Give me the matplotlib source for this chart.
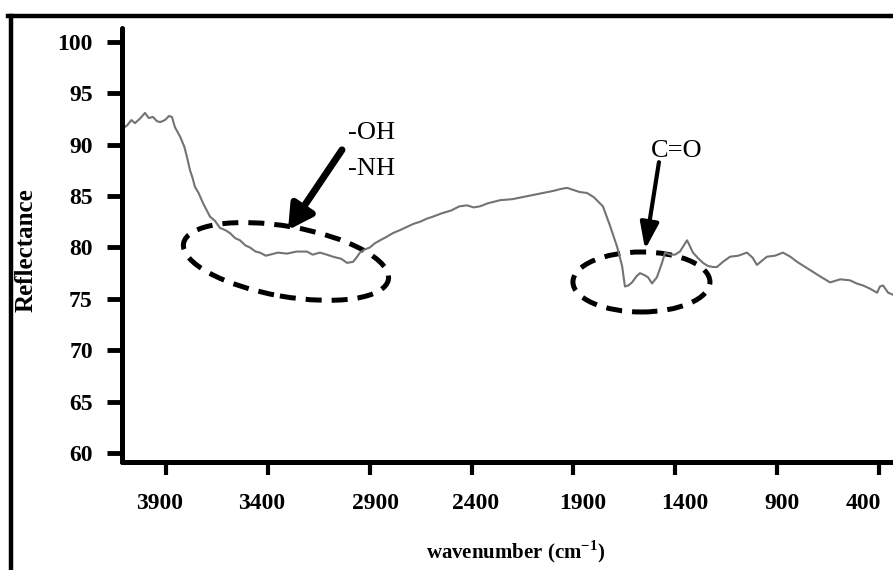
import matplotlib as mpl
mpl.use("Agg")
import matplotlib.pyplot as plt
from matplotlib.lines import Line2D
from matplotlib.patches import Ellipse
from matplotlib.transforms import ScaledTranslation

# spectrum (wavenumber, reflectance)
wavenumber = [4111, 4090, 4070, 4052, 4025, 4003, 3985, 3964, 3945, 3929,
              3905, 3885, 3871, 3856, 3831, 3810, 3797, 3782, 3770, 3758,
              3740, 3718, 3700, 3684, 3660, 3635, 3610, 3586, 3560, 3537,
              3510, 3488, 3460, 3439, 3410, 3389, 3350, 3306, 3260, 3208,
              3180, 3144, 3110, 3080, 3040, 3011, 2982, 2965, 2948, 2925,
              2899, 2875, 2849, 2820, 2786, 2750, 2717, 2685, 2653, 2620,
              2589, 2550, 2500, 2460, 2422, 2390, 2359, 2320, 2260, 2200,
              2150, 2098, 2050, 2000, 1960, 1931, 1900, 1870, 1833, 1800,
              1755, 1720, 1686, 1661, 1647, 1630, 1612, 1590, 1573, 1550,
              1534, 1514, 1490, 1465, 1450, 1425, 1401, 1377, 1342, 1313,
              1290, 1264, 1240, 1215, 1195, 1166, 1131, 1090, 1048, 1020,
              999, 975, 950, 910, 871, 835, 802, 770, 738, 690,
              640, 590, 542, 510, 478, 445, 409, 395, 380, 355, 331]
reflectance = [91.6, 91.9, 92.4, 92.1, 92.6, 93.1, 92.6, 92.7, 92.3, 92.2,
               92.4, 92.8, 92.7, 91.7, 90.8, 89.8, 88.8, 87.5, 86.8, 85.9,
               85.3, 84.3, 83.6, 83.0, 82.6, 81.9, 81.7, 81.4, 80.9, 80.7,
               80.2, 80.0, 79.6, 79.5, 79.2, 79.3, 79.5, 79.4, 79.6, 79.6,
               79.3, 79.5, 79.3, 79.1, 78.9, 78.5, 78.6, 79.0, 79.5, 79.8,
               80.0, 80.4, 80.7, 81.0, 81.4, 81.7, 82.0, 82.3, 82.5, 82.8,
               83.0, 83.3, 83.6, 84.0, 84.1, 83.9, 84.0, 84.3, 84.6, 84.7,
               84.9, 85.1, 85.3, 85.5, 85.7, 85.8, 85.6, 85.4, 85.3, 84.9,
               84.0, 82.1, 80.1, 78.2, 76.2, 76.3, 76.6, 77.2, 77.5, 77.3,
               77.1, 76.5, 77.1, 78.5, 79.5, 79.3, 79.3, 79.6, 80.7, 79.5,
               79.0, 78.5, 78.2, 78.1, 78.1, 78.6, 79.1, 79.2, 79.5, 79.0,
               78.3, 78.7, 79.1, 79.2, 79.5, 79.1, 78.6, 78.2, 77.8, 77.2,
               76.6, 76.9, 76.8, 76.5, 76.3, 76.0, 75.6, 76.2, 76.3, 75.6, 75.4]

xticks = [3900, 3400, 2900, 2400, 1900, 1400, 900, 400]
yticks = [60, 65, 70, 75, 80, 85, 90, 95, 100]

# small horizontal nudges (px) so x labels sit where the reference has them
XLABEL_NUDGE = [-6, -6, 6, 4, 9, 10, 5, -16]

plt.rcParams.update({
    "font.family": "serif",
    "font.serif": ["Liberation Serif", "DejaVu Serif"],
    "mathtext.fontset": "custom",
    "mathtext.rm": "Liberation Serif",
    "mathtext.bf": "Liberation Serif:bold",
})

fig = plt.figure(figsize=(8.93, 5.70), dpi=100)
ax = fig.add_axes([122 / 893, 108 / 570, 1 - 122 / 893, 434 / 570])

ax.plot(wavenumber, reflectance, color="#737373", lw=1.5, zorder=2)

ax.set_xlim(4116, 331)
ax.set_ylim(59.12, 101.36)
ax.set_xticks(xticks)
ax.set_yticks(yticks)
ax.set_xticklabels([str(t) for t in xticks], fontsize=17, fontweight="bold")
ax.set_yticklabels([str(t) for t in yticks], fontsize=17, fontweight="bold")
ax.tick_params(axis="y", direction="out", length=11, width=3.5, pad=10)
ax.tick_params(axis="x", direction="out", length=9, width=3, pad=13)

for lab, dx in zip(ax.get_xticklabels(), XLABEL_NUDGE):
    lab.set_transform(lab.get_transform() + ScaledTranslation(dx / 100, 0, fig.dpi_scale_trans))

for s in ("top", "right"):
    ax.spines[s].set_visible(False)
for s in ("left", "bottom"):
    ax.spines[s].set_linewidth(3.6)
    ax.spines[s].set_capstyle("round")

ax.set_ylabel("Reflectance", fontsize=18, fontweight="bold")
ax.yaxis.set_label_coords(-0.109, (462 - 250) / 434)
ax.set_xlabel("wavenumber (cm$^{\\mathregular{-1}}$)", fontsize=15, fontweight="bold")
ax.xaxis.set_label_coords(0.51, -0.175)


def ring(cx, cy, w_px, h_px, angle):
    """Dashed ellipse sized in pixels, centred on a data point."""
    e = Ellipse((0, 0), w_px / 100, h_px / 100, angle=angle, fill=False,
                lw=3.6, ls=(0, (3.2, 2.0)), color="black", clip_on=False,
                transform=fig.dpi_scale_trans + ScaledTranslation(cx, cy, ax.transData))
    ax.add_artist(e)


ring(3311, 78.64, 208, 70, -10)
ring(1566, 76.64, 137, 60, 0)

# arrows and labels
ax.annotate("", xy=(3301, 81.7), xytext=(3036, 89.5),
            arrowprops=dict(arrowstyle="-|>,head_length=0.9,head_width=0.5",
                            lw=5, color="black", shrinkA=0, shrinkB=0,
                            mutation_scale=16))
ax.annotate("", xy=(1548, 79.8), xytext=(1480, 88.3),
            arrowprops=dict(arrowstyle="-|>,head_length=1.0,head_width=0.35",
                            lw=3, color="black", shrinkA=0, shrinkB=0,
                            mutation_scale=16))
ax.text(3007, 90.6, "-OH", fontsize=19, ha="left", va="baseline")
ax.text(3007, 87.06, "-NH", fontsize=19, ha="left", va="baseline")
ax.text(1391, 88.81, "C=O", fontsize=19, ha="center", va="baseline")

# outer frame (cropped rectangle in the reference)
fig.add_artist(Line2D([8 / 893, 1], [1 - 16 / 570] * 2, transform=fig.transFigure,
                      lw=3.2, color="black"))
fig.add_artist(Line2D([11 / 893] * 2, [0, 1 - 16 / 570], transform=fig.transFigure,
                      lw=3.2, color="black"))

fig.savefig("out.png", dpi=100)
